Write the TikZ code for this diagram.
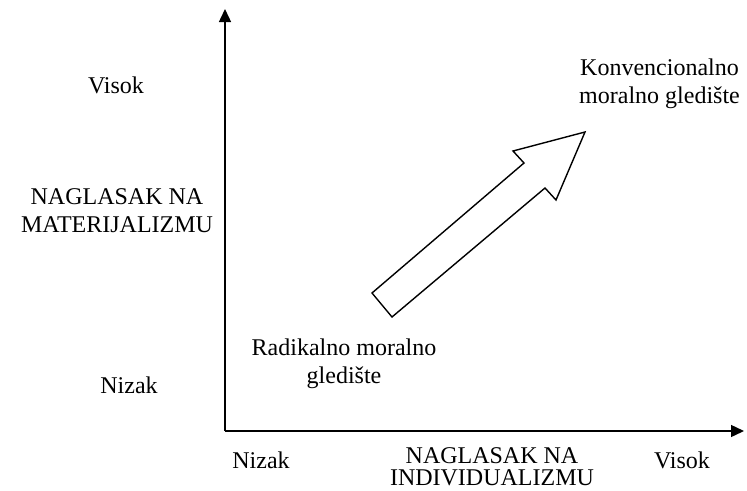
\documentclass[tikz,border=0pt]{standalone}
\usepackage{fontspec}
\setmainfont{Liberation Serif}
\usetikzlibrary{arrows.meta}
\begin{document}
\begin{tikzpicture}[x=1pt,y=-1pt,
  lbl/.style={inner sep=0pt,align=center,font=\fontsize{24}{28}\selectfont},
  lblbottom/.style={lbl,font=\fontsize{24}{22}\selectfont},
  axis/.style={line width=1.4pt,-{Triangle[length=13pt,width=12pt]}},
  blockarrow/.style={line width=1.4pt,line join=miter,fill=white}]
\useasboundingbox (0,0) rectangle (747,490);
% axes
\coordinate (O) at (225,431);
\coordinate (ytop) at (225,9);
\coordinate (xend) at (744,431);
\draw[axis] (O) -- (ytop);
\draw[axis] (O) -- (xend);
% vertical axis labels
\node[lbl] (vhigh) at (116,85) {Visok};
\node[lbl] (vname) at (117,211) {NAGLASAK NA\\MATERIJALIZMU};
\node[lbl] (vlow) at (129,385) {Nizak};
% horizontal axis labels
\node[lbl,anchor=base] (hlow) at (261,468) {Nizak};
\node[lblbottom] (hname) at (492,467) {NAGLASAK NA\\INDIVIDUALIZMU};
\node[lbl,anchor=base] (hhigh) at (682,468) {Visok};
% the two standpoints
\node[lbl] (radical) at (344,364) {Radikalno moralno\\gledište};
\node[lbl,anchor=west] (conventional) at (579,84) {Konvencionalno\\moralno gledište};
% block arrow from the radical to the conventional standpoint
\draw[blockarrow] (372,293) -- (524,163) -- (513,151) -- (585,132)
  -- (556,200) -- (545,188) -- (392,317) -- cycle;
\end{tikzpicture}
\end{document}
